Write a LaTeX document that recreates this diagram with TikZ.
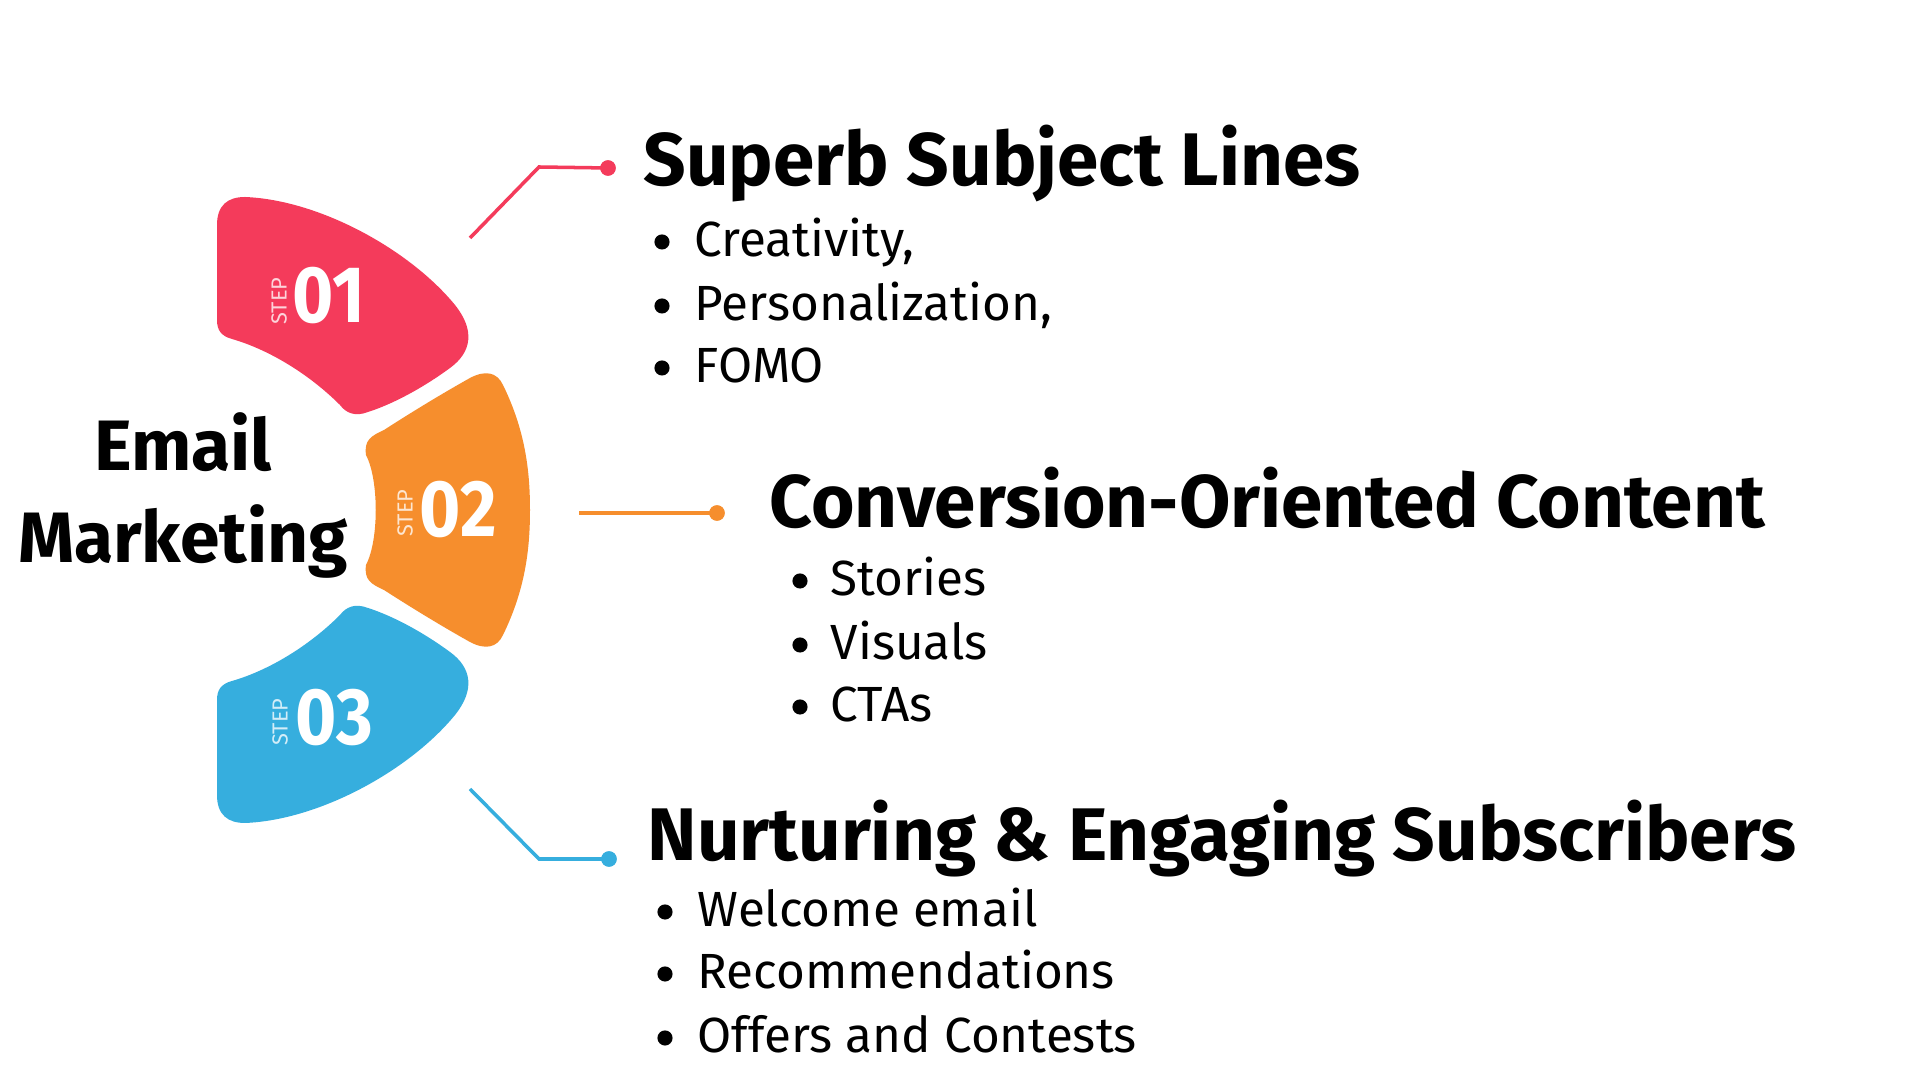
\documentclass[tikz,border=0pt]{standalone}
\usepackage{fontspec}
\setmainfont{Fira Sans}
\definecolor{cred}{HTML}{F43B5B}
\definecolor{corange}{HTML}{F68E2D}
\definecolor{cblue}{HTML}{36AEDE}
\begin{document}
\begin{tikzpicture}[x=0.01cm,y=-0.01cm,
  heading/.style={anchor=base west, inner sep=0pt, font=\fontsize{21.2pt}{24pt}\selectfont\bfseries},
  item/.style={anchor=base west, inner sep=0pt, font=\fontsize{14.05pt}{17pt}\selectfont},
  bul/.style={circle, fill=black, inner sep=0pt, minimum size=4.3pt},
  title/.style={anchor=base, inner sep=0pt, font=\fontsize{20.3pt}{24pt}\selectfont\bfseries},
  num/.style={anchor=base west, inner sep=0pt, text=white, font=\fontsize{22.8pt}{24pt}\selectfont\bfseries},
  steplbl/.style={rotate=90, inner sep=0pt, font=\fontsize{6.2pt}{7pt}\selectfont},
  conn/.style={line width=1pt},
  enddot/.style={circle, inner sep=0pt, minimum size=4.4pt},
]
\useasboundingbox[fill=white] (0,0) rectangle (1920,1080);

% petals
\fill[cred] (217,225) .. controls (217,205) and (228,197) .. (245,197)
  .. controls (320,200) and (410,250) .. (455,305)
  .. controls (475,330) and (472,352) .. (450,368)
  .. controls (420,390) and (390,405) .. (368,412)
  .. controls (355,417) and (346,413) .. (340,405)
  .. controls (310,375) and (270,350) .. (232,339)
  .. controls (221,336) and (217,330) .. (217,320) -- cycle;
\begin{scope}[shift={(0,1020)}, yscale=-1]
\fill[cblue] (217,225) .. controls (217,205) and (228,197) .. (245,197)
  .. controls (320,200) and (410,250) .. (455,305)
  .. controls (475,330) and (472,352) .. (450,368)
  .. controls (420,390) and (390,405) .. (368,412)
  .. controls (355,417) and (346,413) .. (340,405)
  .. controls (310,375) and (270,350) .. (232,339)
  .. controls (221,336) and (217,330) .. (217,320) -- cycle;
\end{scope}
\fill[corange] (366,455) .. controls (364,440) and (371,436) .. (384,430)
  .. controls (415,410) and (445,392) .. (470,378)
  .. controls (485,370) and (497,372) .. (503,385)
  .. controls (525,430) and (530,470) .. (530,510)
  .. controls (530,550) and (525,590) .. (503,635)
  .. controls (497,648) and (485,650) .. (470,642)
  .. controls (445,628) and (415,610) .. (384,590)
  .. controls (371,584) and (364,580) .. (366,565)
  .. controls (379,540) and (379,480) .. (366,455) -- cycle;

% step labels
\node[steplbl, text=white!78!cred] (s1) at (279,301) {STEP};
\node[num] (n1) at (292,323) {\scalebox{0.88}[1]{01}};
\node[steplbl, text=white!78!corange] (s2) at (405,513) {STEP};
\node[num] (n2) at (419,537) {\scalebox{0.88}[1]{02}};
\node[steplbl, text=white!78!cblue] (s3) at (280,722) {STEP};
\node[num] (n3) at (295,745) {\scalebox{0.88}[1]{03}};

% centre title
\node[title] (email) at (183,471) {Email};
\node[title] (marketing) at (183,563) {Marketing};

% connectors
\coordinate (r1) at (470,238);
\coordinate (r2) at (539,167);
\node[enddot, fill=cred] (rd) at (608,168) {};
\draw[conn, cred] (r1) -- (r2) -- (rd.center);
\node[enddot, fill=cred] at (rd) {};

\coordinate (o1) at (579,513);
\node[enddot, fill=corange] (od) at (717,513) {};
\draw[conn, corange] (o1) -- (od.center);
\node[enddot, fill=corange] at (od) {};

\coordinate (b1) at (470,789);
\coordinate (b2) at (539,859);
\node[enddot, fill=cblue] (bd) at (609,859) {};
\draw[conn, cblue] (b1) -- (b2) -- (bd.center);
\node[enddot, fill=cblue] at (bd) {};

% headings
\node[heading] (h1) at (643,186) {Superb Subject Lines};
\node[heading] (h2) at (769,528) {Conversion-Oriented Content};
\node[heading] (h3) at (647,861) {Nurturing \& Engaging Subscribers};

% items group 1
\node[bul] (b11) at (662,242) {};
\node[item] (i11) at (694,257) {Creativity,};
\node[bul] (b12) at (662,306) {};
\node[item] (i12) at (694,321) {Personalization,};
\node[bul] (b13) at (662,368) {};
\node[item] (i13) at (694,383) {FOMO};

% items group 2
\node[bul] (b21) at (800,581) {};
\node[item] (i21) at (830,596) {Stories};
\node[bul] (b22) at (800,645) {};
\node[item] (i22) at (830,660) {Visuals};
\node[bul] (b23) at (800,707) {};
\node[item] (i23) at (830,722) {CTAs};

% items group 3
\node[bul] (b31) at (665,912) {};
\node[item] (i31) at (697,927) {Welcome email};
\node[bul] (b32) at (665,974) {};
\node[item] (i32) at (697,989) {Recommendations};
\node[bul] (b33) at (665,1038) {};
\node[item] (i33) at (697,1053) {Offers and Contests};
\end{tikzpicture}
\end{document}
